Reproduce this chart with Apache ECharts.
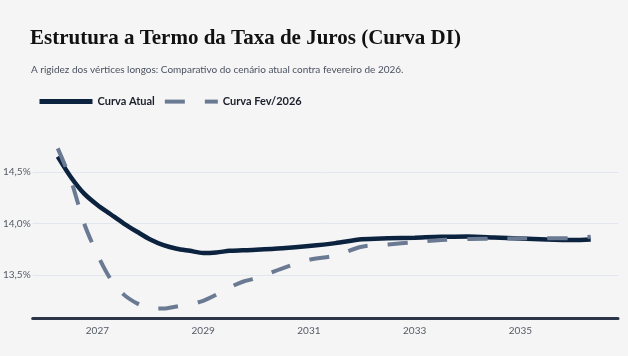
<!DOCTYPE html>
<html>
<head>
<meta charset="utf-8">
<script src="https://cdn.jsdelivr.net/npm/echarts@6/dist/echarts.min.js"></script>
<style>
html,body{margin:0;padding:0;background:#f5f5f5;}
#chart{width:628px;height:356px;}
</style>
</head>
<body>
<div id="chart"></div>
<script>
// Maturities (decimal years)
const years = [2026.25, 2026.5, 2026.75, 2027.0, 2027.25, 2027.5, 2027.75, 2028.0, 2028.25, 2028.5, 2028.75, 2029.0, 2029.25, 2029.5, 2029.75, 2030.0, 2030.5, 2031.0, 2031.5, 2032.0, 2032.5, 2033.0, 2033.5, 2034.0, 2034.5, 2035.0, 2035.5, 2036.0, 2036.33];
// Curva Atual (% a.a.)
const curvaAtual = [14.65, 14.45, 14.29, 14.18, 14.09, 14.00, 13.92, 13.845, 13.79, 13.755, 13.735, 13.715, 13.72, 13.735, 13.74, 13.745, 13.76, 13.782, 13.81, 13.847, 13.857, 13.863, 13.872, 13.873, 13.865, 13.855, 13.845, 13.84, 13.845];
// Curva Fev/2026 (% a.a.)
const curvaFev = [14.73, 14.42, 14.0, 13.70, 13.46, 13.31, 13.225, 13.175, 13.175, 13.195, 13.215, 13.25, 13.31, 13.38, 13.435, 13.47, 13.565, 13.648, 13.69, 13.775, 13.797, 13.82, 13.84, 13.85, 13.853, 13.856, 13.856, 13.858, 13.872];
// Tick labels
const xTicks = [2027, 2029, 2031, 2033, 2035];
const yTicks = [13.5, 14.0, 14.5];

const seriesNames = ['Curva Atual', 'Curva Fev/2026'];
const pair = (arr) => years.map((y, i) => [y, arr[i]]);

const chart = echarts.init(document.getElementById('chart'), null, {renderer: 'canvas'});
chart.setOption({
  backgroundColor: '#f5f5f5',
  animation: false,
  title: [
    {
      text: 'Estrutura a Termo da Taxa de Juros (Curva DI)',
      left: 30, top: 28, padding: 0,
      textStyle: {fontFamily: 'Liberation Serif', fontWeight: 'bold', fontSize: 21, color: '#111111'}
    },
    {
      text: 'A rigidez dos vértices longos: Comparativo do cenário atual contra fevereiro de 2026.',
      left: 31, top: 65, padding: 0,
      textStyle: {fontFamily: 'Lato', fontWeight: 'normal', fontSize: 10, color: '#4a5160'}
    }
  ],
  legend: {
    left: 37, top: 96, padding: 0,
    itemWidth: 53, itemHeight: 14, itemGap: 8,
    itemStyle: {opacity: 0},
    textStyle: {fontFamily: 'Lato', fontWeight: 'bold', fontSize: 11, color: '#1a1f2b'},
    data: [
      {name: seriesNames[0], lineStyle: {width: 5}},
      {name: seriesNames[1], lineStyle: {width: 4}}
    ]
  },
  grid: {left: 31, right: 10, top: 140, bottom: 38, containLabel: false},
  xAxis: {
    type: 'value',
    min: 2025.776, max: 2036.846,
    axisLine: {show: true, lineStyle: {color: '#2d3648', width: 3}},
    axisTick: {show: false, customValues: xTicks},
    splitLine: {show: false},
    axisLabel: {customValues: xTicks, formatter: v => String(Math.round(v)), fontFamily: 'Lato', fontSize: 10, color: '#555b66', margin: 8}
  },
  yAxis: {
    type: 'value',
    min: 13.083, max: 14.811,
    axisLine: {show: false},
    axisTick: {show: false, customValues: yTicks},
    splitLine: {show: true, lineStyle: {color: '#e2e6ee', width: 1}},
    axisLabel: {customValues: yTicks, formatter: v => v.toFixed(1).replace('.', ',') + '%', fontFamily: 'Lato', fontSize: 10, color: '#555b66', margin: 2}
  },
  series: [
    {
      name: seriesNames[0], type: 'line', data: pair(curvaAtual),
      showSymbol: false, symbol: 'none', smooth: 0.3,
      lineStyle: {color: '#0c2340', width: 4.5},
      itemStyle: {color: '#0c2340'}
    },
    {
      name: seriesNames[1], type: 'line', data: pair(curvaFev),
      showSymbol: false, symbol: 'none', smooth: 0.3,
      lineStyle: {color: '#6b7a93', width: 4, type: [20, 20]},
      itemStyle: {color: '#6b7a93'}
    }
  ]
});
</script>
</body>
</html>
